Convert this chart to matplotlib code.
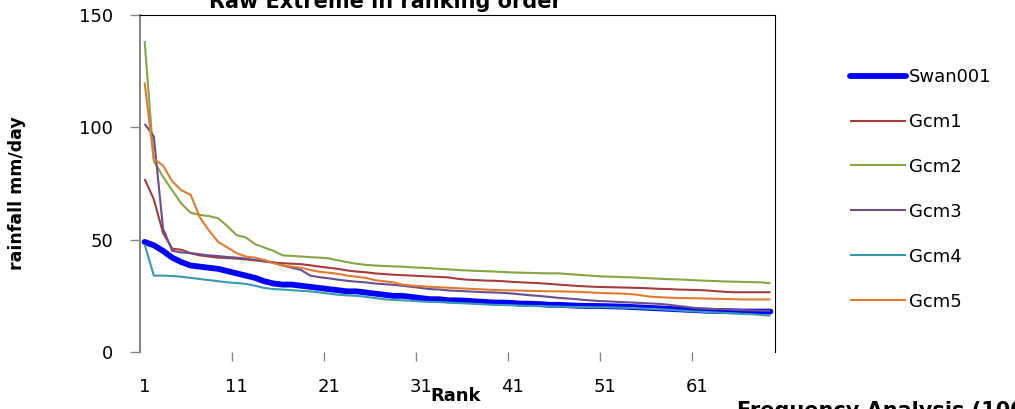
import matplotlib

matplotlib.use("Agg")
import matplotlib.pyplot as plt
import numpy as np

# ranked daily rainfall extremes (mm/day), rank 1..69
SWAN001 = [
    49, 47.5, 45, 42, 40, 38.5, 38, 37.5, 37, 36, 35, 34, 33, 31.5, 30.5, 30, 30, 29.5, 29, 28.5,
    28, 27.5, 27, 27, 26.5, 26, 25.5, 25, 25, 24.5, 24, 23.5, 23.5, 23, 23, 22.8, 22.5, 22.3, 22, 22,
    21.8, 21.5, 21.5, 21.3, 21, 21, 20.8, 20.6, 20.5, 20.5, 20.4, 20.3, 20.2, 20, 19.8, 19.6, 19.4,
    19.2, 19, 18.8, 18.6, 18.4, 18.3, 18.2, 18.1, 18, 18, 18, 18,
]
GCM1 = [
    77, 68, 53, 46, 45.5, 44, 43, 42.5, 42, 41.8, 41.6, 41.2, 40.8, 40.3, 39.8, 39.5, 39.3, 39.1,
    38.6, 38, 37.5, 37, 36.3, 35.8, 35.5, 35, 34.7, 34.4, 34.2, 34, 33.8, 33.6, 33.4, 33.2, 32.6,
    32.2, 32, 31.8, 31.7, 31.5, 31.2, 31, 30.8, 30.6, 30.3, 30, 29.7, 29.4, 29.2, 29, 28.9, 28.8,
    28.7, 28.6, 28.5, 28.3, 28.1, 28, 27.8, 27.7, 27.6, 27.4, 27.1, 26.8, 26.6, 26.6, 26.6, 26.6, 26.6,
]
GCM2 = [
    138.5, 85, 78, 72, 66, 62, 61, 60.5, 59.5, 56, 52, 51, 48, 46.5, 45, 43, 42.8, 42.5, 42.2, 42,
    41.7, 40.8, 40, 39.3, 38.8, 38.5, 38.3, 38.1, 38, 37.7, 37.5, 37.3, 37, 36.8, 36.5, 36.3, 36.1,
    36, 35.8, 35.6, 35.4, 35.3, 35.2, 35.1, 35, 35, 34.7, 34.4, 34.1, 33.8, 33.6, 33.5, 33.3, 33.2,
    33, 32.8, 32.6, 32.4, 32.3, 32.1, 31.9, 31.7, 31.6, 31.4, 31.3, 31.2, 31.1, 31, 30.6,
]
GCM3 = [
    101.5, 96, 55, 45, 44.3, 44, 43.5, 43, 42.7, 42.3, 42, 41.6, 41, 40.5, 39.9, 38.5, 37.5, 36.5,
    34, 33.3, 32.8, 32.2, 31.7, 31.3, 31, 30.5, 30.2, 29.9, 29.5, 29, 28.5, 28, 27.8, 27.4, 27.2, 27,
    26.8, 26.6, 26.5, 26.3, 26, 25.6, 25.2, 24.9, 24.5, 24.1, 23.8, 23.5, 23.1, 22.8, 22.6, 22.4,
    22.2, 22, 21.8, 21.6, 21.4, 21, 20.5, 20, 19.5, 19.3, 19.1, 19, 18.8, 18.6, 18.5, 18.4, 18.4,
]
GCM4 = [
    48, 34, 34, 33.8, 33.5, 33, 32.5, 32, 31.5, 31, 30.7, 30.3, 29.5, 28.5, 28, 27.8, 27.5, 27.2, 27,
    26.5, 26, 25.5, 25.2, 25, 24.6, 24, 23.5, 23.2, 23, 22.8, 22.5, 22.3, 22.2, 22, 21.8, 21.6, 21.4,
    21.2, 21, 20.9, 20.8, 20.6, 20.5, 20.4, 20.3, 20.2, 20.1, 20, 20, 19.9, 19.9, 19.8, 19.7, 19.6,
    19.4, 19.2, 19, 18.8, 18.5, 18.2, 18, 17.8, 17.6, 17.4, 17.2, 17, 16.8, 16.5, 16.2,
]
GCM5 = [
    120, 86, 83, 76, 72, 70, 60, 54, 49, 46.5, 44, 42.5, 42, 41, 39.5, 38.5, 38, 37.5, 36.5, 35.7,
    35.3, 34.8, 34, 33.5, 33, 32, 31.5, 31, 30, 29.6, 29.3, 29, 28.8, 28.6, 28.4, 28.2, 28, 27.8,
    27.6, 27.5, 27.4, 27.3, 27.2, 27.1, 27, 27, 26.9, 26.8, 26.6, 26.4, 26.2, 26.1, 26, 25.7, 25.2,
    24.6, 24.4, 24.2, 24, 24, 23.9, 23.8, 23.7, 23.6, 23.5, 23.4, 23.4, 23.4, 23.4,
]

SERIES = [
    ("Swan001", SWAN001, "#0000FF", 4.2),
    ("Gcm1", GCM1, "#A23D3A", 1.5),
    ("Gcm2", GCM2, "#86A544", 1.5),
    ("Gcm3", GCM3, "#6A4F8E", 1.5),
    ("Gcm4", GCM4, "#3A98B0", 1.5),
    ("Gcm5", GCM5, "#E07B30", 1.5),
]
RANK_LABELS = [1, 11, 21, 31, 41, 51, 61]
Y_TICKS = [0, 50, 100, 150]

W, H = 1015, 409
fig = plt.figure(figsize=(W / 100, H / 100), dpi=100)
ax = fig.add_axes([140 / W, 1 - 352 / H, 635 / W, 337 / H])

ranks = np.arange(1, len(SWAN001) + 1)
for name, values, color, lw in SERIES:
    ax.plot(ranks, values, color=color, linewidth=lw, label=name,
            solid_capstyle="round" if lw > 2 else "butt", solid_joinstyle="round")

ax.set_xlim(0.5, len(ranks) + 0.5)
ax.set_ylim(0, 150)

ax.spines["bottom"].set_visible(False)
ax.spines["left"].set_color("#868686")
ax.spines["left"].set_linewidth(1.5)
ax.spines["top"].set_color("black")
ax.spines["right"].set_color("black")

ax.set_yticks(Y_TICKS)
ax.tick_params(axis="y", direction="out", length=7.2, width=1, color="#868686",
               labelsize=13, pad=12)
ax.set_xticks(RANK_LABELS)
ax.set_xticks(np.arange(10.5, len(ranks), 10), minor=True)
ax.tick_params(axis="x", which="major", length=0, labelsize=13, pad=19)
ax.tick_params(axis="x", which="minor", direction="out", length=6.5, width=1, color="#868686")

fig.text(456 / W, 1 - 396 / H, "Rank", ha="center", va="center", fontsize=13, fontweight="bold")
fig.text(17 / W, 1 - 193 / H, "rainfall mm/day", ha="center", va="center", rotation=90,
         fontsize=12.5, fontweight="bold")
# title and footer are cropped by the frame edges, as in the source image
fig.text(385 / W, 1 - 8 / H, "Raw Extreme in ranking order", ha="center", va="baseline",
         fontsize=15, fontweight="bold")
fig.text(737 / W, 1 - 401 / H, "Frequency Analysis (100", ha="left", va="top",
         fontsize=15, fontweight="bold")

ax.legend(loc="upper left", bbox_to_anchor=(850 / W, 1 - 68 / H), bbox_transform=fig.transFigure,
          frameon=False, fontsize=13, handlelength=3.1, handletextpad=0.15, labelspacing=1.49,
          borderpad=0, borderaxespad=0)

fig.savefig("out.png", dpi=100)
